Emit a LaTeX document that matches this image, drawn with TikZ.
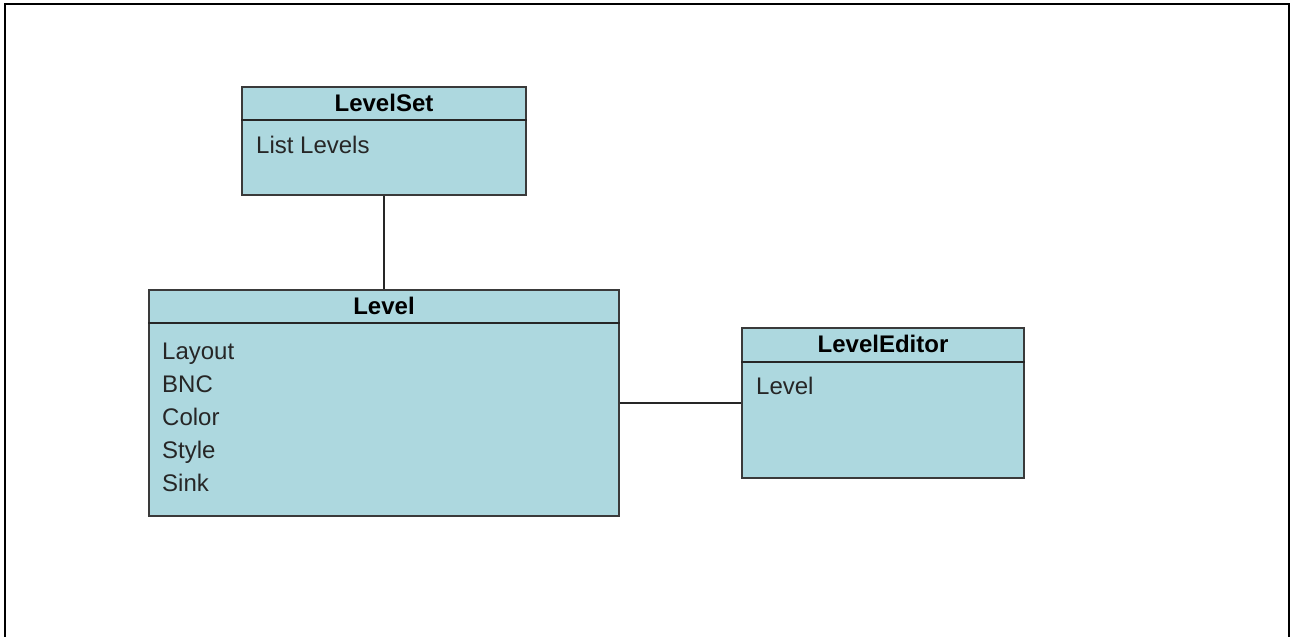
\documentclass[tikz,border=0pt]{standalone}
\usepackage{fontspec}
\setmainfont{Liberation Sans}
\usetikzlibrary{calc}
\definecolor{boxfill}{HTML}{ADD8DF}
\definecolor{boxline}{HTML}{3A3A3A}
\tikzset{
  umlbox/.style={rectangle, draw=boxline, fill=boxfill, line width=2pt,
    inner sep=0pt, anchor=north west},
  umltitle/.style={font=\fontsize{24}{27}\selectfont\bfseries, text=black,
    inner sep=0pt, text height=17pt, text depth=5pt},
  umlitem/.style={font=\fontsize{24}{27}\selectfont, text=black!85, anchor=west,
    inner sep=0pt, text height=17pt, text depth=5pt},
  umlsep/.style={draw=black!85, line width=1.8pt},
  link/.style={draw=black!85, line width=1.6pt},
  frame/.style={draw=black, line width=2.8pt}
}
\begin{document}
\begin{tikzpicture}[x=1pt, y=1pt]
  \useasboundingbox (0,0) rectangle (1291,-637);
  \fill[white] (0,0) rectangle (1291,-637);
  % outer frame, open at the bottom
  \draw[frame] (5,-637) -- (5,-4) -- (1289,-4) -- (1289,-637);

  % LevelSet class
  \node[umlbox, minimum width=284pt, minimum height=108pt] (levelset) at (241,-86) {};
  \node[umltitle] (levelsetT) at ($(levelset.north)+(0,-19)$) {LevelSet};
  \draw[umlsep] ($(levelset.north west)+(0,-34)$) -- ($(levelset.north east)+(0,-34)$);
  \node[umlitem] (levelsetA) at ($(levelset.north west)+(15,-61)$) {List Levels};

  % Level class
  \node[umlbox, minimum width=470pt, minimum height=226pt] (level) at (148,-289) {};
  \node[umltitle] (levelT) at ($(level.north)+(0,-19)$) {Level};
  \draw[umlsep] ($(level.north west)+(0,-34)$) -- ($(level.north east)+(0,-34)$);
  \node[umlitem] (levelA) at ($(level.north west)+(14,-64)$) {Layout};
  \node[umlitem] (levelB) at ($(level.north west)+(14,-97)$) {BNC};
  \node[umlitem] (levelC) at ($(level.north west)+(14,-130)$) {Color};
  \node[umlitem] (levelD) at ($(level.north west)+(14,-163)$) {Style};
  \node[umlitem] (levelE) at ($(level.north west)+(14,-196)$) {Sink};

  % LevelEditor class
  \node[umlbox, minimum width=282pt, minimum height=150pt] (editor) at (741,-327) {};
  \node[umltitle] (editorT) at ($(editor.north)+(0,-19)$) {LevelEditor};
  \draw[umlsep] ($(editor.north west)+(0,-35)$) -- ($(editor.north east)+(0,-35)$);
  \node[umlitem] (editorA) at ($(editor.north west)+(15,-61)$) {Level};

  % associations
  \draw[link] (levelset.south) -- (level.north);
  \draw[link] (level.east) -- (editor.west);
\end{tikzpicture}
\end{document}
